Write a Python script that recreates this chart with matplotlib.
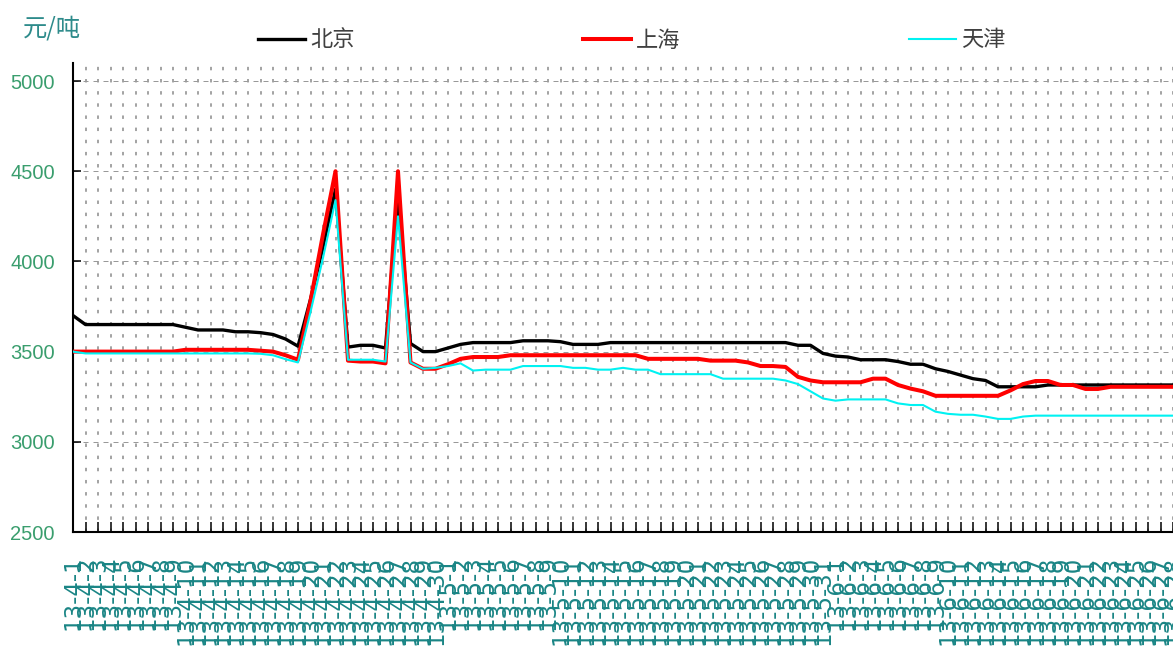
#!/usr/bin/env python3
"""Daily price lines for 北京 / 上海 / 天津, Excel-style look."""
import numpy as np
import pandas as pd
import matplotlib
matplotlib.use("Agg")
import matplotlib.pyplot as plt
from matplotlib.lines import Line2D

# --- data (元/吨), one value per day from 2013-04-01 ---
dates = pd.date_range("2013-04-01", periods=89, freq="D")
date_labels = [f"{d.year % 100}-{d.month}-{d.day}" for d in dates]

beijing = [3700, 3650, 3650, 3650, 3650, 3650, 3650, 3650, 3650, 3635,
           3620, 3620, 3620, 3610, 3610, 3605, 3595, 3570, 3530, 3790,
           4080, 4400, 3525, 3535, 3535, 3520, 4370, 3545, 3500, 3500,
           3520, 3540, 3550, 3550, 3550, 3550, 3560, 3560, 3560, 3555,
           3540, 3540, 3540, 3550, 3550, 3550, 3550, 3550, 3550, 3550,
           3550, 3550, 3550, 3550, 3550, 3550, 3550, 3550, 3535, 3535,
           3490, 3475, 3470, 3455, 3455, 3455, 3445, 3430, 3430, 3405,
           3390, 3370, 3350, 3340, 3305, 3305, 3305, 3305, 3315, 3315,
           3315, 3315, 3315, 3315, 3315, 3315, 3315, 3315, 3315]

shanghai = [3500, 3500, 3500, 3500, 3500, 3500, 3500, 3500, 3500, 3510,
            3510, 3510, 3510, 3510, 3510, 3505, 3500, 3480, 3455, 3780,
            4150, 4500, 3450, 3445, 3445, 3435, 4500, 3440, 3405, 3405,
            3430, 3460, 3470, 3470, 3470, 3480, 3480, 3480, 3480, 3480,
            3480, 3480, 3480, 3480, 3480, 3480, 3460, 3460, 3460, 3460,
            3460, 3450, 3450, 3450, 3440, 3420, 3420, 3415, 3360, 3340,
            3330, 3330, 3330, 3330, 3350, 3350, 3315, 3295, 3280, 3255,
            3255, 3255, 3255, 3255, 3255, 3285, 3320, 3337, 3337, 3315,
            3315, 3293, 3293, 3305, 3305, 3305, 3305, 3305, 3305]

tianjin = [3500, 3490, 3490, 3490, 3490, 3490, 3490, 3490, 3490, 3490,
           3490, 3490, 3490, 3490, 3490, 3488, 3480, 3458, 3440, 3720,
           4020, 4340, 3455, 3455, 3455, 3445, 4250, 3440, 3405, 3410,
           3420, 3435, 3395, 3400, 3400, 3400, 3420, 3420, 3420, 3420,
           3410, 3410, 3400, 3400, 3410, 3400, 3400, 3375, 3375, 3375,
           3375, 3375, 3350, 3350, 3350, 3350, 3350, 3340, 3320, 3280,
           3240, 3228, 3235, 3235, 3235, 3235, 3213, 3204, 3204, 3167,
           3155, 3150, 3150, 3140, 3127, 3127, 3140, 3145, 3145, 3145,
           3145, 3145, 3145, 3145, 3145, 3145, 3145, 3145, 3145]

series_names = ["北京", "上海", "天津"]
series_colors = ["#000000", "#FF0000", "#00F2F2"]
series_widths = [2.4, 2.9, 1.5]
y_ticks = [2500, 3000, 3500, 4000, 4500, 5000]

W, H = 1173, 666
fig = plt.figure(figsize=(W / 100, H / 100), dpi=100)
ax = fig.add_axes([73 / W, (H - 532) / H, 1100 / W, 469 / H])

x = np.arange(len(date_labels))
for vals, c, lw in zip([beijing, shanghai, tianjin], series_colors, series_widths):
    ax.plot(x, vals, color=c, lw=lw, solid_joinstyle="round", zorder=3)

ax.set_xlim(0, len(date_labels) - 1)
ax.set_ylim(2500, 5100)
ax.set_xticks(x)
ax.set_xticklabels(date_labels, rotation=90, fontsize=16.5, color="#1A8585",
                   family="DejaVu Sans")
ax.set_yticks(y_ticks)
ax.set_yticklabels([str(v) for v in y_ticks], fontsize=14.5, color="#3A9E6E",
                   family="Liberation Sans")

ax.tick_params(axis="x", direction="in", length=7, width=1.1, pad=17)
ax.tick_params(axis="y", direction="in", length=5.8, width=1.1, pad=13)

for s in ["top", "right"]:
    ax.spines[s].set_visible(False)
for s in ["left", "bottom"]:
    ax.spines[s].set_linewidth(1.5)

ax.xaxis.grid(True, color="#888888", lw=1.08, linestyle=(0, (2.3, 5.8)))
ax.yaxis.grid(True, color="#999999", lw=0.72, linestyle=(0, (5, 5)))
ax.set_axisbelow(True)

fig.text(23 / W, 1 - 28 / H, "元/吨", fontsize=17.5, color="#2E8B8B",
         family=["Noto Sans CJK SC", "DejaVu Sans"], va="center", ha="left")

handles = [Line2D([], [], color=c, lw=lw) for c, lw in zip(series_colors, series_widths)]
fig.legend(handles, series_names, ncol=3, loc="center left",
           bbox_to_anchor=(258 / W, 1 - 40 / H), frameon=False,
           borderpad=0, borderaxespad=0, handlelength=2.12, handletextpad=0.22,
           columnspacing=10.3, labelcolor="#404040",
           prop={"family": ["Noto Sans CJK SC", "DejaVu Sans"], "size": 16})

fig.savefig("out.png", dpi=100)
